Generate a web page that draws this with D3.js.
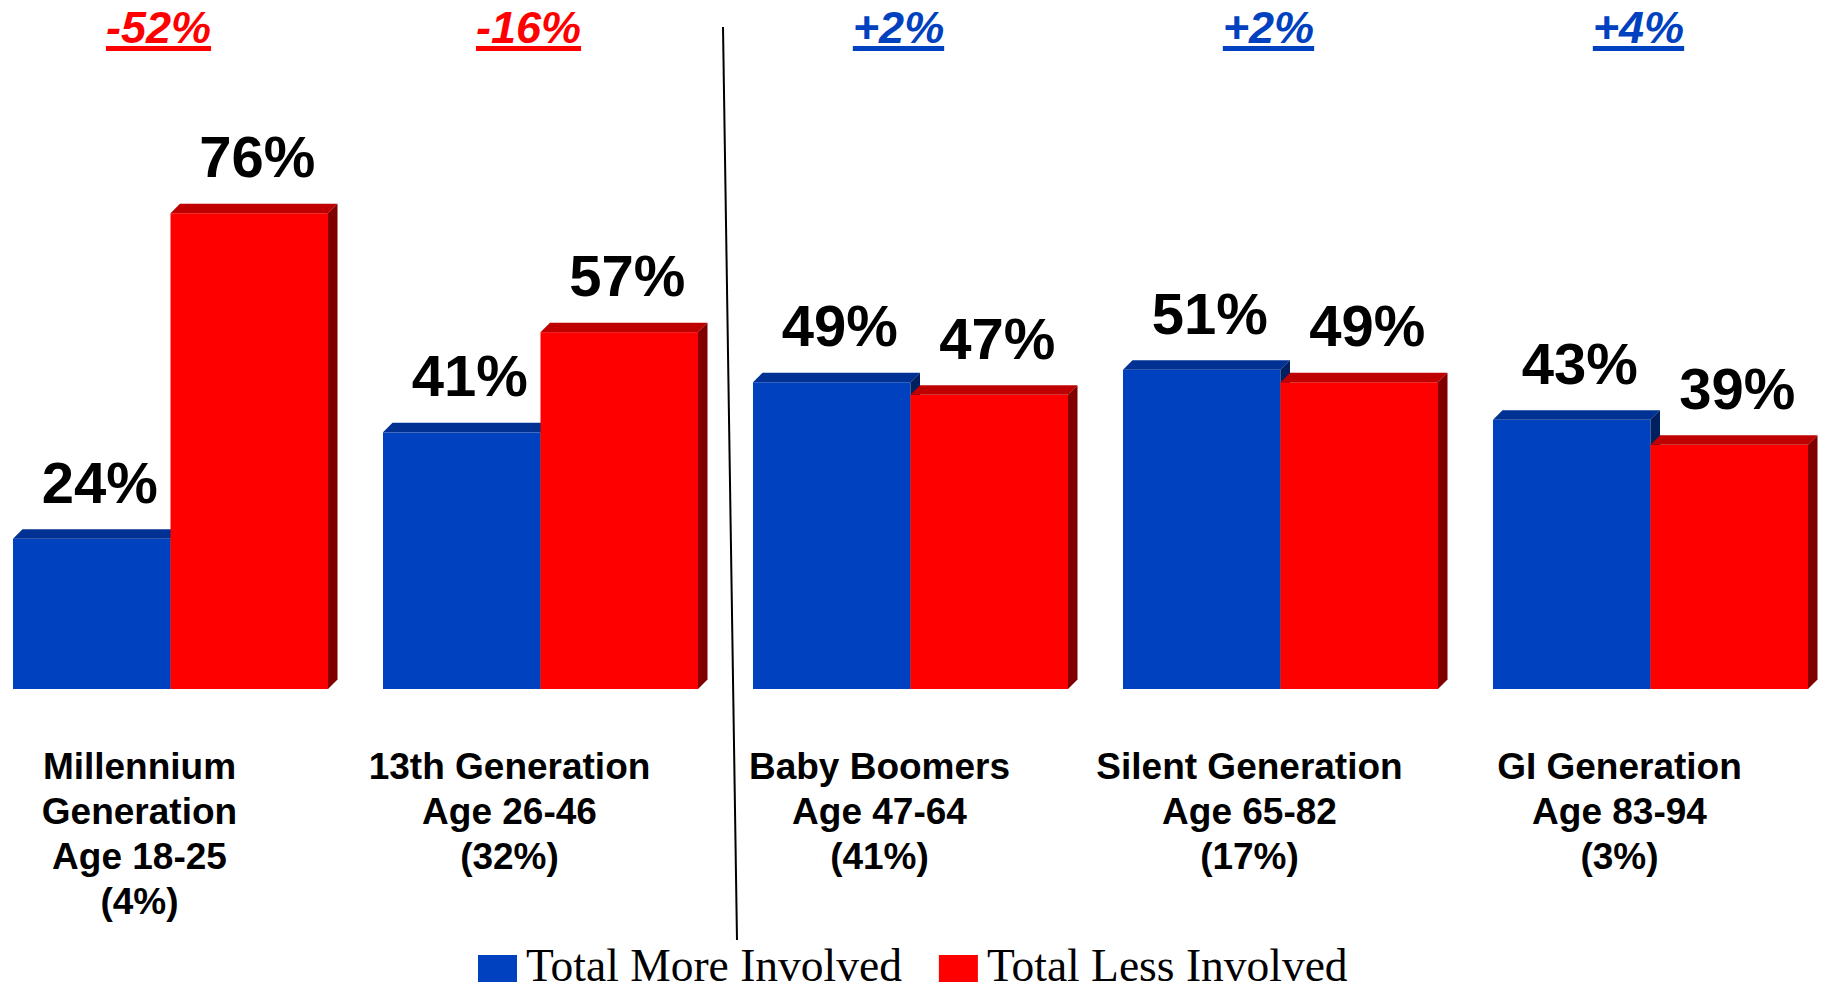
<!DOCTYPE html>
<html>
<head>
<meta charset="utf-8">
<script src="https://cdn.jsdelivr.net/npm/d3@7"></script>
<style>
  html, body { margin: 0; padding: 0; background: #fff; }
  svg { display: block; }
</style>
</head>
<body>
<div id="chart"></div>
<script>
// generations, one entry per label line
var categories = [
  ["Millennium", "Generation", "Age 18-25", "(4%)"],
  ["13th Generation", "Age 26-46", "(32%)"],
  ["Baby Boomers", "Age 47-64", "(41%)"],
  ["Silent Generation", "Age 65-82", "(17%)"],
  ["GI Generation", "Age 83-94", "(3%)"]
];
var moreInvolved = [24, 41, 49, 51, 43];
var lessInvolved = [76, 57, 47, 49, 39];
var seriesNames = ["Total More Involved", "Total Less Involved"];

(function() {
  var width = 1825,
      height = 988,
      base = 689,
      depth = 9.5;

  var colors = [
    {front: "#0041c0", top: "#003193", side: "#002060"},
    {front: "#ff0000", top: "#bf0000", side: "#800000"}
  ];
  var boldFont = "'Liberation Sans', Arial, sans-serif";

  var svg = d3.select("#chart").append("svg")
      .attr("width", width)
      .attr("height", height);

  var x0 = d3.scaleBand().domain(d3.range(categories.length))
      .range([13, 1808]).paddingInner(0.1486).paddingOuter(0);
  var x1 = d3.scaleBand().domain([0, 1]).range([0, x0.bandwidth()]);
  var y = d3.scaleLinear().domain([0, 100]).range([base, 63]);

  var rows = categories.map(function(c, i) {
    return {i: i, vals: [moreInvolved[i], lessInvolved[i]]};
  });

  var groups = svg.selectAll("g.grp").data(rows).enter()
    .append("g").attr("class", "grp")
    .attr("transform", function(d) { return "translate(" + x0(d.i) + ",0)"; });

  var bw = x1.bandwidth();

  // 3d bars: front, top, side
  groups.each(function(d) {
    var g = d3.select(this);
    d.vals.forEach(function(v, s) {
      var bx = x1(s), yt = y(v), c = colors[s];
      g.append("rect")
        .attr("x", bx).attr("y", yt)
        .attr("width", bw).attr("height", base - yt)
        .attr("fill", c.front);
      g.append("polygon")
        .attr("points", [[bx, yt], [bx + depth, yt - depth], [bx + bw + depth, yt - depth], [bx + bw, yt]].join(" "))
        .attr("fill", c.top);
      g.append("polygon")
        .attr("points", [[bx + bw, yt], [bx + bw + depth, yt - depth], [bx + bw + depth, base - depth], [bx + bw, base]].join(" "))
        .attr("fill", c.side);
    });
    // value labels
    d.vals.forEach(function(v, s) {
      g.append("text")
        .attr("x", x1(s) + bw / 2 + 8)
        .attr("y", y(v) - 36)
        .attr("text-anchor", "middle")
        .style("font-family", boldFont)
        .style("font-weight", "bold")
        .style("font-size", "58px")
        .attr("fill", "#000")
        .text(v + "%");
    });
  });

  // difference labels on top, underlined
  groups.each(function(d) {
    var g = d3.select(this);
    var diff = d.vals[0] - d.vals[1];
    var col = diff < 0 ? "#ff0000" : "#0041c0";
    var cx = x0.bandwidth() / 2 - 12;
    var t = g.append("text")
      .attr("x", cx)
      .attr("y", 43)
      .attr("text-anchor", "middle")
      .style("font-family", boldFont)
      .style("font-weight", "bold")
      .style("font-style", "italic")
      .style("font-size", "45px")
      .attr("fill", col)
      .text((diff > 0 ? "+" : "") + diff + "%");
    var len = t.node().getComputedTextLength();
    g.append("rect")
      .attr("x", cx - len / 2)
      .attr("y", 46)
      .attr("width", len)
      .attr("height", 5)
      .attr("fill", col);
  });

  // category labels
  groups.append("text")
    .attr("text-anchor", "middle")
    .style("font-family", boldFont)
    .style("font-weight", "bold")
    .style("font-size", "37px")
    .attr("fill", "#000")
    .selectAll("tspan")
    .data(function(d) { return categories[d.i]; })
    .enter().append("tspan")
    .attr("x", x0.bandwidth() / 2 - 31)
    .attr("y", function(d, j) { return 779 + j * 45; })
    .text(function(d) { return d; });

  // divider between 13th Generation and Baby Boomers
  var mid = (x0(1) + x0.bandwidth() + x0(2)) / 2;
  svg.append("line")
    .attr("x1", mid - 2.5).attr("y1", 27)
    .attr("x2", mid + 11.5).attr("y2", 940)
    .attr("stroke", "#000")
    .attr("stroke-width", 2);

  // legend
  var lx = 478;
  seriesNames.forEach(function(name, s) {
    svg.append("rect")
      .attr("x", lx).attr("y", 955)
      .attr("width", 39).attr("height", 27)
      .attr("fill", colors[s].front);
    var t = svg.append("text")
      .attr("x", lx + 48)
      .attr("y", 981)
      .style("font-family", "'Liberation Serif', 'Times New Roman', serif")
      .style("font-size", "45.5px")
      .attr("fill", "#000")
      .text(name);
    lx = lx + 48 + t.node().getComputedTextLength() + 37;
  });
})();
</script>
</body>
</html>
